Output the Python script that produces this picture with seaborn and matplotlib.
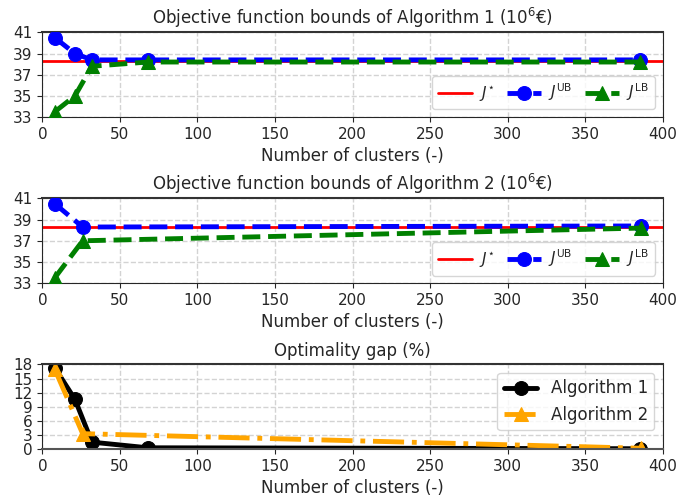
import numpy as np
import pandas as pd
import matplotlib
matplotlib.use('Agg')
import matplotlib.pyplot as plt
import seaborn as sns

# data
j_star = 38.3

alg1_clusters = [8, 21, 32, 68, 385]
alg1_ub = [40.5, 39.0, 38.4, 38.4, 38.4]
alg1_lb = [33.5, 35.0, 37.8, 38.2, 38.2]
alg1_gap = [17.3, 10.6, 1.5, 0.3, 0.1]

alg2_clusters = [8, 26, 386]
alg2_ub = [40.5, 38.3, 38.4]
alg2_lb = [33.5, 37.0, 38.2]
alg2_gap = [17.0, 3.3, 0.2]

bound_ticks = [33, 35, 37, 39, 41]
gap_ticks = [0, 3, 6, 9, 12, 15, 18]

sns.set_style("ticks")
plt.rcParams['font.family'] = ['DejaVu Sans']
plt.rcParams['font.size'] = 11

fig, axes = plt.subplots(3, 1, figsize=(6.94, 4.98), dpi=100)


def bounds_panel(ax, x, ub, lb, title):
    ax.axhline(j_star, color='red', lw=2, label=r'$J^{\star}$', zorder=2)
    sns.lineplot(x=x, y=ub, ax=ax, color='blue', linestyle='--', lw=3.5,
                 marker='o', markersize=10, markeredgecolor='blue',
                 label=r'$J^{\rm UB}$', zorder=3)
    sns.lineplot(x=x, y=lb, ax=ax, color='green', linestyle='--', lw=3.5,
                 marker='^', markersize=10, markeredgecolor='green',
                 label=r'$J^{\rm LB}$', zorder=4)
    ax.set_ylim(33, 41)
    ax.set_yticks(bound_ticks)
    ax.set_xlim(0, 400)
    ax.set_title(title, fontsize=12)
    ax.set_xlabel('Number of clusters (-)', fontsize=12)
    ax.set_ylabel('')
    ax.grid(True, linestyle='--', color='lightgray', lw=1)
    ax.legend(loc='lower right', ncol=3, fontsize=11, handlelength=2.2,
              columnspacing=0.8, handletextpad=0.5)


bounds_panel(axes[0], alg1_clusters, alg1_ub, alg1_lb,
             'Objective function bounds of Algorithm 1 ($10^6$€)')
bounds_panel(axes[1], alg2_clusters, alg2_ub, alg2_lb,
             'Objective function bounds of Algorithm 2 ($10^6$€)')

ax = axes[2]
sns.lineplot(x=alg1_clusters, y=alg1_gap, ax=ax, color='black', linestyle='-', lw=3.5,
             marker='o', markersize=10, markeredgecolor='black', label='Algorithm 1')
sns.lineplot(x=alg2_clusters, y=alg2_gap, ax=ax, color='orange', linestyle='-.', lw=3.5,
             marker='^', markersize=10, markeredgecolor='orange', label='Algorithm 2')
ax.set_ylim(0, 18)
ax.set_yticks(gap_ticks)
ax.set_xlim(0, 400)
ax.set_title('Optimality gap (%)', fontsize=12)
ax.set_xlabel('Number of clusters (-)', fontsize=12)
ax.grid(True, linestyle='--', color='lightgray', lw=1)
ax.legend(loc='upper right', fontsize=12)

for a in axes:
    a.tick_params(labelsize=11)
    a.spines['top'].set_color('#333333')
    a.spines['top'].set_linewidth(1.5)
axes[2].spines['bottom'].set_color('#555555')
axes[2].spines['bottom'].set_linewidth(1.5)

plt.subplots_adjust(left=0.061, right=0.955, top=0.935, bottom=0.098, hspace=0.96)
plt.savefig('out.png', dpi=100)
